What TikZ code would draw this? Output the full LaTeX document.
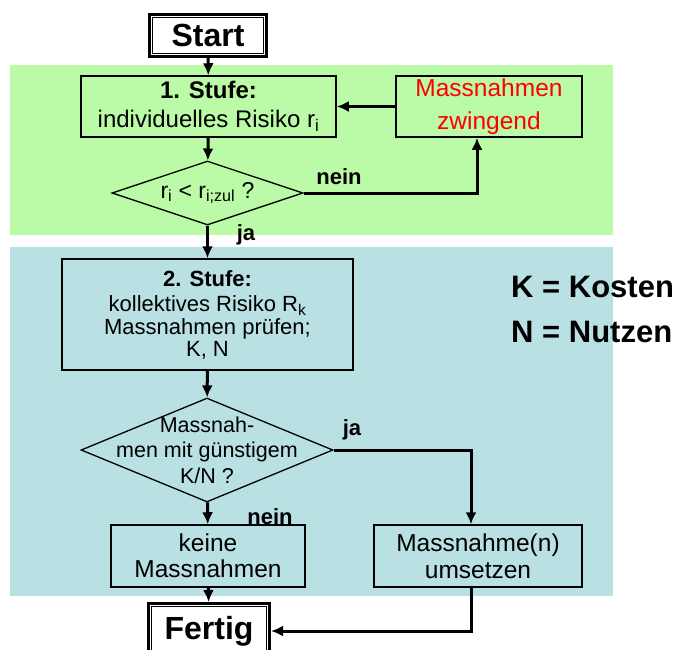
\documentclass[tikz,border=0pt]{standalone}
\usepackage{fontspec}
\setmainfont{Liberation Sans}
\usetikzlibrary{arrows.meta,shapes.geometric}

\definecolor{stufeeins}{RGB}{187,250,166}
\definecolor{stufezwei}{RGB}{185,224,227}
\definecolor{rot}{RGB}{255,0,0}

\tikzset{
  kasten/.style={draw, line width=1.5pt, inner sep=0pt, align=center},
  raute/.style={diamond, draw, line width=1.3pt, inner sep=0pt, align=center},
  endbox/.style={draw, line width=3pt, fill=white, inner sep=0pt, font=\bfseries\fontsize{32}{32}\selectfont},
  pfeil/.style={-{Latex[length=12pt,width=11pt]}, line width=3pt},
  antwort/.style={font=\bfseries\fontsize{22}{22}\selectfont, inner sep=0pt},
  legende/.style={anchor=west, font=\bfseries\fontsize{31}{31}\selectfont, inner sep=0pt},
}

\begin{document}
\begin{tikzpicture}[x=1pt,y=-1pt]
                \useasboundingbox (0,0) rectangle (678,649);
                % Hintergrund der beiden Stufen
                \fill[stufeeins] (10,65) rectangle (613,235);
                \fill[stufezwei] (10,247) rectangle (613,596);
                % Knoten
                \node[endbox, minimum width=117pt, minimum height=42pt] (start) at (208,35.5) {Start};
                \draw[line width=1.3pt] ([shift={(4.5pt,-4.5pt)}]start.north west) rectangle ([shift={(-4.5pt,4.5pt)}]start.south east);
                \node[kasten, minimum width=255pt, minimum height=61pt, font=\fontsize{24}{29}\selectfont] (stufe1) at (208.5,106.5) {\textbf{1. Stufe:}\\individuelles Risiko r\textsubscript{i}};
                \node[kasten, minimum width=186pt, minimum height=61pt, text=rot, font=\fontsize{24.5}{33}\selectfont] (zwingend) at (489,106.5) {Massnahmen\\zwingend};
                \node[raute, aspect=3, minimum width=191pt, minimum height=64pt, font=\fontsize{23}{23}\selectfont] (frage1) at (207.5,193) {r\textsubscript{i} < r\textsubscript{i;zul} ?};
                \node[kasten, minimum width=291pt, minimum height=111pt, font=\fontsize{22}{22}\selectfont] (stufe2) at (207.5,314.5) {\textbf{2. Stufe:}\\[3pt]kollektives Risiko R\textsubscript{k}\\[1pt]Massnahmen prüfen;\\K, N};
                \node[raute, minimum width=252pt, minimum height=104pt, label={[align=center, font=\fontsize{21.5}{25.5}\selectfont]center:Massnah-\\men mit günstigem\\K/N ?}] (frage2) at (207,450) {};
                \node[kasten, minimum width=194pt, minimum height=62pt, font=\fontsize{24.5}{26}\selectfont] (keine) at (208,556) {keine\\Massnahmen};
                \node[kasten, minimum width=208pt, minimum height=62pt, font=\fontsize{24.5}{27}\selectfont] (umsetzen) at (478,556) {Massnahme(n)\\umsetzen};
                \node[endbox, minimum width=121pt, minimum height=55pt] (fertig) at (209,631) {Fertig};
                \draw[line width=1.3pt] ([shift={(4.5pt,-4.5pt)}]fertig.north west) rectangle ([shift={(-4.5pt,4.5pt)}]fertig.south east);
                % Verbindungen
                \draw[pfeil] (start) -- (stufe1);
                \draw[pfeil] (stufe1) -- (frage1);
                \draw[pfeil] (zwingend) -- (stufe1);
                \draw[pfeil] (frage1.east) -| ([xshift=-12pt]zwingend.south);
                \draw[pfeil] (frage1) -- (stufe2);
                \draw[pfeil] (stufe2) -- (frage2);
                \draw[pfeil] (frage2) -- (keine);
                \draw[pfeil] (frage2.east) -| ([xshift=-7pt]umsetzen.north);
                \draw[pfeil] (keine) -- (fertig);
                \draw[pfeil] ([xshift=-7pt]umsetzen.south) |- (fertig.east);
                % Antworten
                \node[antwort] (nein1) at (339,177) {nein};
                \node[antwort] (ja1) at (246,235) {ja};
                \node[antwort] (ja2) at (352,430) {ja};
                \node[antwort] (nein2) at (270,517) {nein};
                % Legende
                \node[legende] (kosten) at (511,287) {K = Kosten};
                \node[legende] (nutzen) at (511,332) {N = Nutzen};
            \end{tikzpicture}
\end{document}
